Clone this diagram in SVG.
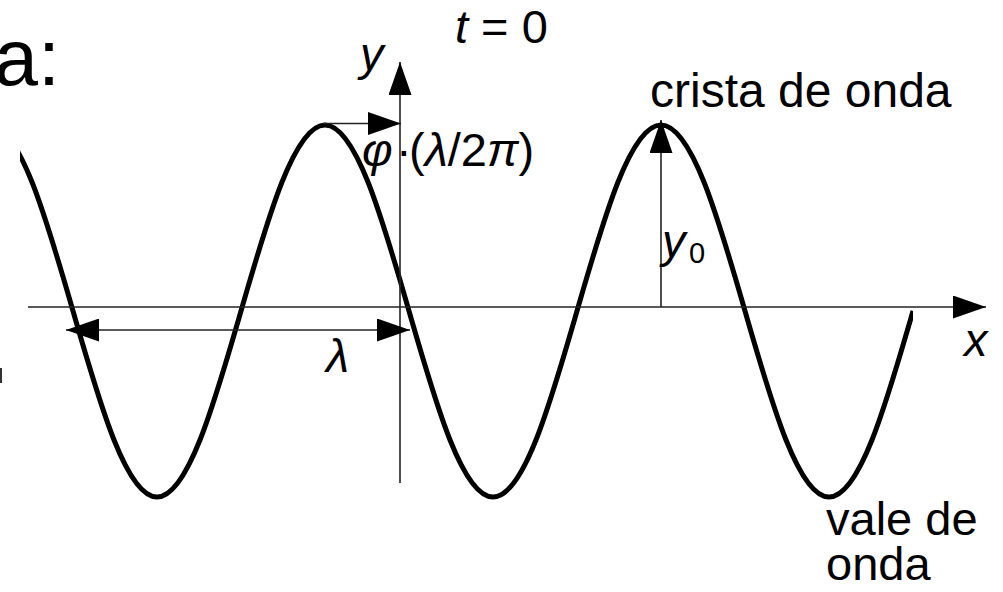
<svg xmlns="http://www.w3.org/2000/svg" width="1003" height="592" viewBox="0 0 1003 592">
<style>
.t{font-family:"Liberation Sans",Arial,sans-serif;font-size:47px;fill:#000}
.i{font-style:italic}
.ln{stroke:#222;stroke-width:1.6;fill:none}
.wave{stroke:#000;stroke-width:5;fill:none;stroke-linejoin:round}
</style>
<defs>
<marker id="arr" viewBox="0 0 33 23" refX="33" refY="11.5" markerWidth="33" markerHeight="23" markerUnits="userSpaceOnUse" orient="auto-start-reverse">
<path d="M0,0 L33,11.5 L0,23 z" fill="#000"/>
</marker>
<clipPath id="wc"><rect x="20" y="0" width="893" height="592"/></clipPath>
</defs>
<rect width="1003" height="592" fill="#fff"/>
<g id="title"><text class="t" x="-6" y="85" style="font-size:79px">a:</text></g>
<rect x="0" y="368" width="2" height="15" fill="#333"/>
<g id="wave">
<path class="wave" clip-path="url(#wc)" d="M-11,125 c30.26,0 56.6,90.7 84,186 c27.4,95.3 53.74,186 84,186 c30.26,0 56.6,-90.7 84,-186 c27.4,-95.3 53.74,-186 84,-186 c30.26,0 56.6,90.7 84,186 c27.4,95.3 53.74,186 84,186 c30.26,0 56.6,-90.7 84,-186 c27.4,-95.3 53.74,-186 84,-186 c30.26,0 56.6,90.7 84,186 c27.4,95.3 53.74,186 84,186 c30.26,0 56.6,-90.7 84,-186"/>
</g>
<g id="connectors">
<path id="x-axis" class="ln" d="M28,307 H986" marker-end="url(#arr)"/>
<path id="y-axis" class="ln" d="M400,483 V62" marker-end="url(#arr)"/>
<path id="phase-arrow" class="ln" d="M323,123.5 H401" marker-end="url(#arr)"/>
<path id="lambda-arrow" class="ln" d="M66,330 H410" marker-start="url(#arr)" marker-end="url(#arr)"/>
<path id="amp-arrow" class="ln" d="M661,307 V120" marker-end="url(#arr)"/>
</g>
<g id="labels">
<text class="t" x="455" y="43"><tspan class="i">t</tspan> = 0</text>
<text class="t i" x="360" y="70">y</text>
<text class="t i" x="964" y="356">x</text>
<text class="t i" x="326" y="372">λ</text>
<text class="t" x="662" y="257"><tspan class="i">y</tspan><tspan x="689" y="263" style="font-size:29px">0</tspan></text>
<text class="t" x="650" y="107" style="font-size:48px">crista de onda</text>
<text class="t" x="826" y="535">vale de</text>
<text class="t" x="826" y="580">onda</text>
<text class="t" y="166"><tspan class="i" x="362">φ</tspan><tspan x="396">·</tspan><tspan x="409">(</tspan><tspan class="i">λ</tspan>/2<tspan class="i">π</tspan>)</text>
</g>
</svg>
